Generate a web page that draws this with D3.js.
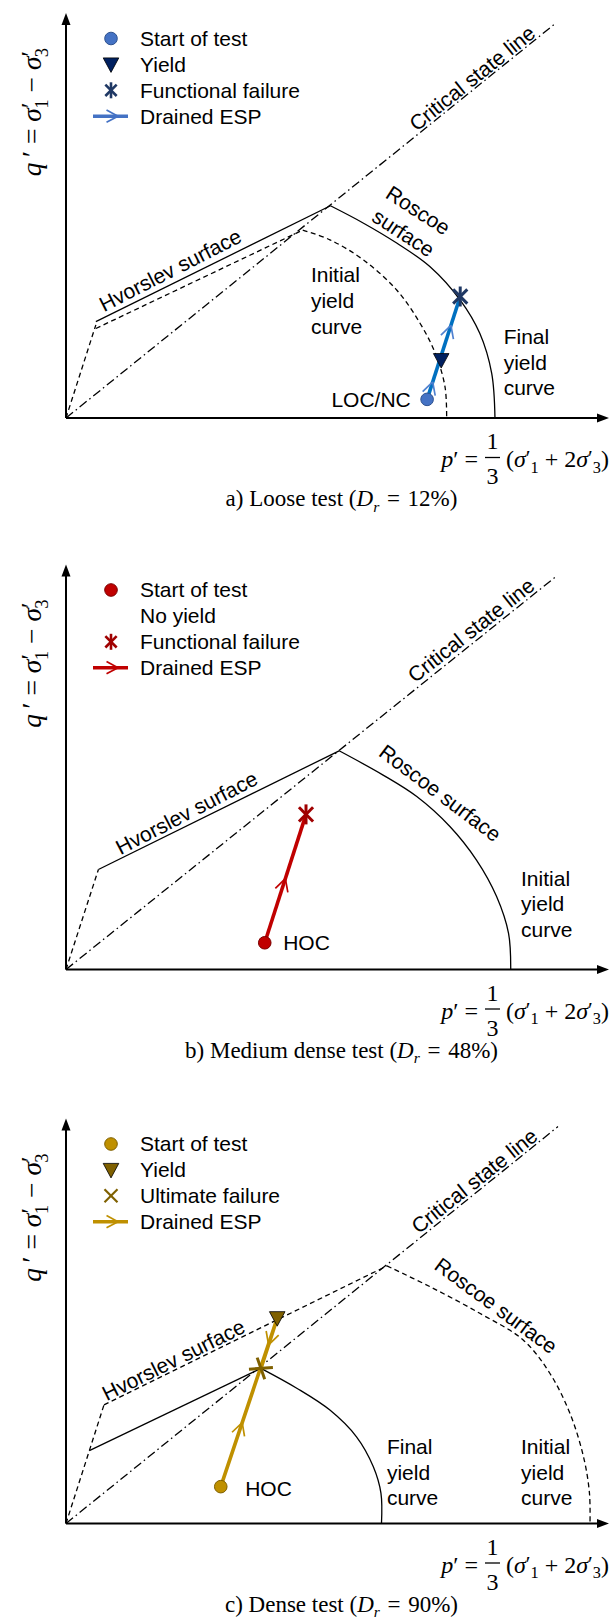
<!DOCTYPE html>
<html>
<head>
<meta charset="utf-8">
<script src="https://cdn.jsdelivr.net/npm/d3@7"></script>
<style>
  body { margin: 0; background: #fff; }
  svg { display: block; }
</style>
</head>
<body>
<script>
// p' and q' in arbitrary units, each axis runs 0..100 up to its arrow tip

// a) loose test
const looseCSL = [[0, 0], [90.2, 97.5]];
const looseFront = [[0, 0], [5.5, 23.0]];
const looseFinalHvorslev = [[5.5, 23.8], [48.7, 52.4]];
const looseInitialHvorslev = [[5.5, 22.1], [43.6, 46.4]];
const looseFinalRoscoe = [[48.7, 52.4], [54.8, 48.1], [60.9, 43.2], [67.0, 37.4], [72.6, 29.1], [76.2, 20.9], [78.4, 11.0], [79.0, 0]];
const looseInitialYield = [[43.6, 46.4], [48.6, 44.0], [54.8, 39.0], [60.9, 31.6], [65.2, 23.4], [68.0, 16.0], [69.8, 7.7], [70.1, 0]];
const looseStart = [66.5, 4.6];
const looseYield = [69.1, 14.3];
const looseFailure = [72.6, 30.0];

// b) medium dense test
const mediumCSL = [[0, 0], [90.2, 97.0]];
const mediumFront = [[0, 0], [5.97, 24.7]];
const mediumHvorslev = [[5.97, 24.7], [50.3, 54.0]];
const mediumRoscoe = [[50.3, 54.0], [58.4, 48.0], [64.6, 42.7], [70.7, 35.3], [75.6, 27.0], [79.3, 18.0], [81.5, 8.9], [81.9, 0]];
const mediumStart = [36.6, 6.6];
const mediumFailure = [44.2, 38.3];

// c) dense test
const denseCSL = [[0, 0], [90.6, 98.0]];
const denseFront = [[0, 0], [7.0, 29.3]];
const denseInitialHvorslev = [[7.0, 29.3], [59.1, 63.6]];
const denseInitialRoscoe = [[59.1, 63.6], [67.0, 58.5], [76.2, 51.9], [84.2, 45.3], [89.1, 37.1], [92.8, 27.2], [95.3, 16.5], [96.4, 7.5], [96.5, 0]];
const denseFinalHvorslev = [[4.3, 18.0], [35.9, 38.3]];
const denseFinalRoscoe = [[35.9, 38.3], [42.5, 33.4], [48.6, 28.0], [53.5, 21.4], [56.6, 14.0], [58.0, 7.5], [58.1, 0]];
const denseStart = [28.5, 9.1];
const denseYield = [38.9, 50.7];
const denseFailure = [35.9, 38.3];

const looseLegend = ["Start of test", "Yield", "Functional failure", "Drained ESP"];
const mediumLegend = ["Start of test", "No yield", "Functional failure", "Drained ESP"];
const denseLegend = ["Start of test", "Yield", "Ultimate failure", "Drained ESP"];

const width = 612;
const height = 1623;
const sans = "'Liberation Sans', Arial, sans-serif";
const serif = "'Liberation Serif', 'Times New Roman', serif";
const dashes = { dash: "5,3.5", dashdot: "9,3.5,1.5,3.5", solid: null };

const svg = d3
  .select("body")
  .append("svg")
  .attr("width", width)
  .attr("height", height)
  .attr("viewBox", `0 0 ${width} ${height}`);

// italic / sub / prime runs inside one <text>
const appendMath = (text, parts, size) => {
  let shift = 0;
  parts.forEach((p) => {
    const target = p.prime ? -0.08 * size : p.sub ? 0.24 * size : 0;
    const fs = p.prime ? size * 0.9 : p.sub ? size * 0.68 : size;
    const t = text
      .append("tspan")
      .text(p.s)
      .attr("dy", target - shift)
      .attr("font-size", fs)
      .attr("font-style", p.it ? "italic" : "normal");
    if (p.back) t.attr("dx", -0.22 * size);
    shift = target;
  });
};

// sigma with prime; subscript tucked under the prime when stacked
const sigma = (n, stacked) => [
  { s: "σ", it: true },
  { s: "′", prime: true },
  { s: n, sub: true, back: stacked },
];

const panels = [
  {
    originY: 418,
    colors: { start: "#4472C4", startStroke: "#2F528F", yield: "#002060", failure: "#1F3864", line: "#0070C0", chevron: "#4F81D0", legendLine: "#4472C4" },
    csl: looseCSL,
    dashed: [looseFront, looseInitialHvorslev],
    dashedCurves: [looseInitialYield],
    solid: [looseFinalHvorslev],
    solidCurves: [looseFinalRoscoe],
    esp: [looseStart, looseFailure],
    arrows: [[0, 0.17], [0, 0.72]],
    markers: [["circle", looseStart], ["triangle", looseYield], ["star", looseFailure]],
    legend: looseLegend,
    legendSymbols: ["circle", "triangle", "star", "esp"],
    labels: [
      { lines: ["Critical state line"], at: [74.8, 83.9], angle: -38.7 },
      { lines: ["Hvorslev surface"], at: [19.2, 36.5], angle: -27 },
      { lines: ["Roscoe", "surface"], at: [63.5, 48.5], angle: 33 },
      { lines: ["Initial", "yield", "curve"], at: [45.1, 35.3], anchor: "start" },
      { lines: ["Final", "yield", "curve"], at: [80.6, 20.1], anchor: "start" },
      { lines: ["LOC/NC"], at: [63.5, 4.6], anchor: "end" },
    ],
    caption: [{ s: "a) Loose test (" }, { s: "D", it: true }, { s: "r", it: true, sub: true }, { s: "\u2004=\u200412%)" }],
  },
  {
    originY: 969.5,
    colors: { start: "#C00000", startStroke: "#7B0000", yield: "#C00000", failure: "#A00000", line: "#C00000", chevron: "#C00000", legendLine: "#C00000" },
    csl: mediumCSL,
    dashed: [mediumFront],
    dashedCurves: [],
    solid: [mediumHvorslev],
    solidCurves: [mediumRoscoe],
    esp: [mediumStart, mediumFailure],
    arrows: [[0, 0.5]],
    markers: [["circle", mediumStart], ["star", mediumFailure]],
    legend: mediumLegend,
    legendSymbols: ["circle", null, "star", "esp"],
    labels: [
      { lines: ["Critical state line"], at: [74.6, 83.8], angle: -38.2 },
      { lines: ["Hvorslev surface"], at: [22.2, 38.7], angle: -27.4 },
      { lines: ["Roscoe surface"], at: [68.9, 43.6], angle: 37 },
      { lines: ["Initial", "yield", "curve"], at: [83.8, 22.5], anchor: "start" },
      { lines: ["HOC"], at: [40.0, 6.6], anchor: "start" },
    ],
    caption: [{ s: "b) Medium dense test (" }, { s: "D", it: true }, { s: "r", it: true, sub: true }, { s: "\u2004=\u200448%)" }],
  },
  {
    originY: 1523.5,
    colors: { start: "#BF9000", startStroke: "#7F6000", yield: "#7F6000", failure: "#7F6000", line: "#BF9000", chevron: "#BF9000", legendLine: "#BF9000" },
    csl: denseCSL,
    dashed: [denseFront, denseInitialHvorslev],
    dashedCurves: [denseInitialRoscoe],
    solid: [denseFinalHvorslev],
    solidCurves: [denseFinalRoscoe],
    esp: [denseStart, denseYield, denseFailure],
    arrows: [[0, 0.38], [1, 0.53]],
    markers: [["circle", denseStart], ["plus", denseFailure], ["triangle", denseYield]],
    legend: denseLegend,
    legendSymbols: ["circle", "triangle", "cross", "esp"],
    labels: [
      { lines: ["Critical state line"], at: [75.2, 84.6], angle: -38.5 },
      { lines: ["Hvorslev surface"], at: [19.8, 40.4], angle: -26.5 },
      { lines: ["Roscoe surface"], at: [79.2, 53.8], angle: 36.3 },
      { lines: ["Final", "yield", "curve"], at: [59.1, 19.0], anchor: "start" },
      { lines: ["Initial", "yield", "curve"], at: [83.8, 19.0], anchor: "start" },
      { lines: ["HOC"], at: [33.0, 8.7], anchor: "start" },
    ],
    caption: [{ s: "c) Dense test (" }, { s: "D", it: true }, { s: "r", it: true, sub: true }, { s: "\u2004=\u200490%)" }],
  },
];

const drawSymbol = (g, type, cx, cy, c, small) => {
  if (type === "circle") {
    g.append("circle").attr("cx", cx).attr("cy", cy).attr("r", 6.3)
      .attr("fill", c.start).attr("stroke", c.startStroke).attr("stroke-width", 1);
  } else if (type === "triangle") {
    g.append("path")
      .attr("d", `M${cx - 7.8},${cy - 6.5}L${cx + 7.8},${cy - 6.5}L${cx},${cy + 8}Z`)
      .attr("fill", c.yield).attr("stroke", "#000").attr("stroke-width", 0.8);
  } else if (type === "star") {
    const r = small ? 8 : 10;
    [90, 45, 135].forEach((a) => {
      const dx = r * Math.cos((a * Math.PI) / 180);
      const dy = r * Math.sin((a * Math.PI) / 180);
      g.append("line").attr("x1", cx - dx).attr("y1", cy - dy).attr("x2", cx + dx).attr("y2", cy + dy)
        .attr("stroke", c.failure).attr("stroke-width", small ? 2.6 : 3);
    });
  } else if (type === "cross") {
    const r = 6.5;
    [[r, r], [r, -r]].forEach(([dx, dy]) => {
      g.append("line").attr("x1", cx - dx).attr("y1", cy - dy).attr("x2", cx + dx).attr("y2", cy + dy)
        .attr("stroke", c.failure).attr("stroke-width", 2.2);
    });
  } else if (type === "plus") {
    const pg = g.append("g").attr("transform", `translate(${cx},${cy}) rotate(-4)`);
    pg.append("line").attr("x1", -12).attr("y1", 0).attr("x2", 12).attr("y2", 0)
      .attr("stroke", c.failure).attr("stroke-width", 3);
    pg.append("line").attr("x1", -3).attr("y1", -11).attr("x2", 3).attr("y2", 11)
      .attr("stroke", c.failure).attr("stroke-width", 3);
  }
};

const chevron = (g, px, py, ux, uy, color, len) => {
  const ang = (28 * Math.PI) / 180;
  [ang, -ang].forEach((a) => {
    const bx = -(ux * Math.cos(a) - uy * Math.sin(a));
    const by = -(ux * Math.sin(a) + uy * Math.cos(a));
    g.append("line").attr("x1", px).attr("y1", py).attr("x2", px + len * bx).attr("y2", py + len * by)
      .attr("stroke", color).attr("stroke-width", 1.7);
  });
};

const drawPanel = (panel) => {
  const g = svg.append("g");
  const c = panel.colors;
  const x = d3.scaleLinear().domain([0, 100]).range([66, 609]);
  const y = d3.scaleLinear().domain([0, 100]).range([panel.originY, panel.originY - 405]);
  const line = d3.line().x((d) => x(d[0])).y((d) => y(d[1]));
  const curve = d3.line().x((d) => x(d[0])).y((d) => y(d[1])).curve(d3.curveCatmullRom.alpha(0.5));

  // axes with arrow heads
  g.append("line").attr("x1", x(0)).attr("y1", y(0)).attr("x2", x(100) - 8).attr("y2", y(0))
    .attr("stroke", "#000").attr("stroke-width", 2);
  g.append("line").attr("x1", x(0)).attr("y1", y(0)).attr("x2", x(0)).attr("y2", y(100) + 8)
    .attr("stroke", "#000").attr("stroke-width", 2);
  g.append("path")
    .attr("d", `M${x(100)},${y(0)}L${x(100) - 12},${y(0) - 4.5}L${x(100) - 12},${y(0) + 4.5}Z`)
    .attr("fill", "#000");
  g.append("path")
    .attr("d", `M${x(0)},${y(100)}L${x(0) - 4.5},${y(100) + 12}L${x(0) + 4.5},${y(100) + 12}Z`)
    .attr("fill", "#000");

  const stroke = (d, gen, style) =>
    g.append("path").attr("d", gen(d)).attr("fill", "none").attr("stroke", "#000")
      .attr("stroke-width", 1.3).attr("stroke-dasharray", dashes[style]);

  stroke(panel.csl, line, "dashdot");
  panel.dashed.forEach((d) => stroke(d, line, "dash"));
  panel.dashedCurves.forEach((d) => stroke(d, curve, "dash"));
  panel.solid.forEach((d) => stroke(d, line, "solid"));
  panel.solidCurves.forEach((d) => stroke(d, curve, "solid"));

  // effective stress path
  g.append("path").attr("d", line(panel.esp)).attr("fill", "none")
    .attr("stroke", c.line).attr("stroke-width", 3.6).attr("stroke-linejoin", "round");
  panel.arrows.forEach(([seg, f]) => {
    const a = panel.esp[seg];
    const b = panel.esp[seg + 1];
    const ax = x(a[0]), ay = y(a[1]), bx = x(b[0]), by = y(b[1]);
    const L = Math.hypot(bx - ax, by - ay);
    chevron(g, ax + (bx - ax) * f, ay + (by - ay) * f, (bx - ax) / L, (by - ay) / L, c.chevron, 14);
  });
  panel.markers.forEach(([type, p]) => drawSymbol(g, type, x(p[0]), y(p[1]), c, false));

  // legend
  panel.legend.forEach((label, i) => {
    const cy = panel.originY - 379.5 + i * 25.9;
    const sym = panel.legendSymbols[i];
    if (sym === "esp") {
      g.append("line").attr("x1", 93).attr("y1", cy).attr("x2", 128).attr("y2", cy)
        .attr("stroke", c.legendLine).attr("stroke-width", 3.4);
      chevron(g, 118, cy, 1, 0, c.legendLine, 13);
    } else if (sym) {
      drawSymbol(g, sym, 111, cy, c, true);
    }
    g.append("text").attr("x", 140).attr("y", cy).attr("dy", "0.35em")
      .attr("font-family", sans).attr("font-size", 21).attr("fill", "#000").text(label);
  });

  // annotations
  panel.labels.forEach((lab) => {
    const px = x(lab.at[0]);
    const py = y(lab.at[1]);
    const t = g.append("text").attr("font-family", sans).attr("font-size", 21).attr("fill", "#000");
    if (lab.angle !== undefined) {
      t.attr("transform", `translate(${px},${py}) rotate(${lab.angle})`).attr("text-anchor", "middle");
      const n = lab.lines.length;
      lab.lines.forEach((s, i) => {
        t.append("tspan").attr("x", 0).attr("y", (i - (n - 1) / 2) * 27).attr("dy", "0.35em").text(s);
      });
    } else {
      t.attr("text-anchor", lab.anchor);
      lab.lines.forEach((s, i) => {
        t.append("tspan").attr("x", px).attr("y", py + i * 25.7).attr("dy", "0.35em").text(s);
      });
    }
  });

  // y axis title
  const yl = g.append("text")
    .attr("transform", `translate(41,${panel.originY - 306}) rotate(-90)`)
    .attr("text-anchor", "middle").attr("font-family", serif).attr("fill", "#000");
  appendMath(yl, [{ s: "q", it: true }, { s: "\u2009′" }, { s: "\u00a0=\u00a0" }, ...sigma("1", true), { s: "\u00a0−\u00a0" }, ...sigma("3", true)], 27.5);

  // x axis title: p' = 1/3 (s1' + 2 s3'), laid out left to right, right edge on the arrow tip
  const size = 24;
  const base = panel.originY + 49;
  const xa = g.append("text").attr("y", base).attr("font-family", serif).attr("fill", "#000");
  appendMath(xa, [{ s: "p", it: true }, { s: "′" }, { s: "\u00a0=" }], size);
  const xb = g.append("text").attr("y", base).attr("font-family", serif).attr("fill", "#000");
  appendMath(xb, [{ s: "(" }, ...sigma("1", false), { s: "\u2005+\u20052" }, ...sigma("3", false), { s: ")" }], size);
  const wa = xa.node().getComputedTextLength();
  const wb = xb.node().getComputedTextLength();
  const fw = 15;
  const gap1 = 7;
  const gap2 = 6;
  const left = x(100) - (wa + gap1 + fw + gap2 + wb);
  xa.attr("x", left);
  const fx = left + wa + gap1 + fw / 2;
  g.append("text").attr("x", fx).attr("y", panel.originY + 31).attr("text-anchor", "middle")
    .attr("font-family", serif).attr("font-size", size).attr("fill", "#000").text("1");
  g.append("text").attr("x", fx).attr("y", panel.originY + 66).attr("text-anchor", "middle")
    .attr("font-family", serif).attr("font-size", size).attr("fill", "#000").text("3");
  g.append("line").attr("x1", fx - fw / 2).attr("x2", fx + fw / 2)
    .attr("y1", panel.originY + 39.5).attr("y2", panel.originY + 39.5)
    .attr("stroke", "#000").attr("stroke-width", 1.3);
  xb.attr("x", fx + fw / 2 + gap2);

  // caption
  const cap = g.append("text").attr("x", 341.5).attr("y", panel.originY + 88).attr("dy", "0.35em")
    .attr("text-anchor", "middle").attr("font-family", serif).attr("fill", "#000");
  appendMath(cap, panel.caption, 23);
};

panels.forEach(drawPanel);
</script>
</body>
</html>
